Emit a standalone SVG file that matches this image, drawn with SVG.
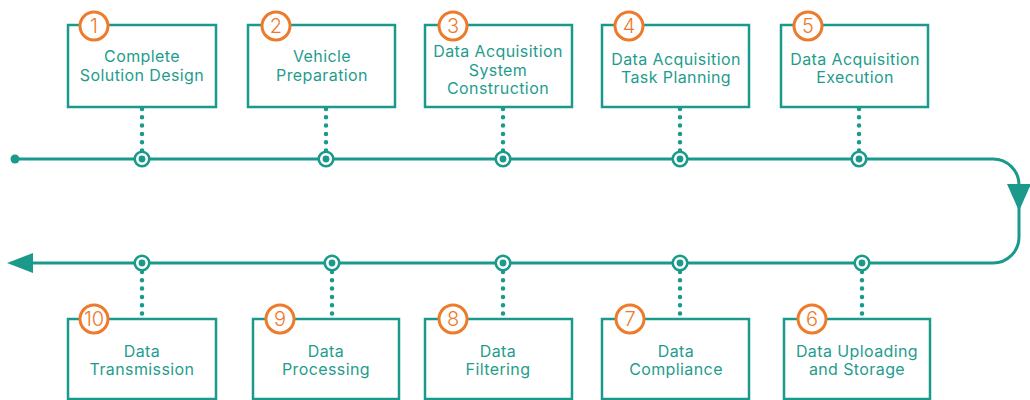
<svg xmlns="http://www.w3.org/2000/svg" width="1030" height="400" viewBox="0 0 1030 400">
<style>
.box{fill:#fff;stroke:#1b9a8b;stroke-width:2.5}
.num{fill:#fff;stroke:#ee7a2b;stroke-width:3}
.numt{fill:#ee7a2b;font-family:Inter,"Open Sans",sans-serif;font-size:20px;font-weight:300;text-anchor:middle}
.lbl{fill:#1f9c8d;font-family:Inter,"Open Sans",sans-serif;font-size:16px;letter-spacing:0.4px;text-anchor:middle}
.line{fill:none;stroke:#1b9a8b;stroke-width:3}
.dots{stroke:#1b9a8b;stroke-width:4.5;stroke-linecap:round;stroke-dasharray:0 8.3}
.ring{fill:#fff;stroke:#1b9a8b;stroke-width:2.6}
.core{fill:#1b9a8b}
</style>
<g id="connectors">
<path class="line" d="M15 159 H993 A26 26 0 0 1 1019 185 V237 A26 26 0 0 1 993 263 H30"/>
<circle class="core" cx="15" cy="159" r="4.5"/>
<polygon class="core" points="1007,184 1031,184 1019,211"/>
<polygon class="core" points="7,263 33,253 33,273"/>
<line class="dots" x1="142" y1="109" x2="142" y2="151"/>
<line class="dots" x1="326" y1="109" x2="326" y2="151"/>
<line class="dots" x1="503" y1="109" x2="503" y2="151"/>
<line class="dots" x1="680" y1="109" x2="680" y2="151"/>
<line class="dots" x1="859" y1="109" x2="859" y2="151"/>
<line class="dots" x1="142" y1="272" x2="142" y2="314"/>
<line class="dots" x1="332" y1="272" x2="332" y2="314"/>
<line class="dots" x1="503" y1="272" x2="503" y2="314"/>
<line class="dots" x1="680" y1="272" x2="680" y2="314"/>
<line class="dots" x1="862" y1="272" x2="862" y2="314"/>
<g>
<circle class="ring" cx="142" cy="159" r="7.3"/><circle class="core" cx="142" cy="159" r="3.4"/>
<circle class="ring" cx="326" cy="159" r="7.3"/><circle class="core" cx="326" cy="159" r="3.4"/>
<circle class="ring" cx="503" cy="159" r="7.3"/><circle class="core" cx="503" cy="159" r="3.4"/>
<circle class="ring" cx="680" cy="159" r="7.3"/><circle class="core" cx="680" cy="159" r="3.4"/>
<circle class="ring" cx="859" cy="159" r="7.3"/><circle class="core" cx="859" cy="159" r="3.4"/>
<circle class="ring" cx="142" cy="263" r="7.3"/><circle class="core" cx="142" cy="263" r="3.4"/>
<circle class="ring" cx="332" cy="263" r="7.3"/><circle class="core" cx="332" cy="263" r="3.4"/>
<circle class="ring" cx="503" cy="263" r="7.3"/><circle class="core" cx="503" cy="263" r="3.4"/>
<circle class="ring" cx="680" cy="263" r="7.3"/><circle class="core" cx="680" cy="263" r="3.4"/>
<circle class="ring" cx="862" cy="263" r="7.3"/><circle class="core" cx="862" cy="263" r="3.4"/>
</g>
</g>
<g id="step1">
<rect class="box" x="68" y="25" width="148" height="82"/>
<circle class="num" cx="94" cy="26" r="14"/><text class="numt" x="94" y="33">1</text>
<text class="lbl" x="142" y="62">Complete</text><text class="lbl" x="142" y="81">Solution Design</text>
</g>
<g id="step2">
<rect class="box" x="248" y="25" width="147" height="82"/>
<circle class="num" cx="276" cy="26" r="14"/><text class="numt" x="276" y="33">2</text>
<text class="lbl" x="322" y="62">Vehicle</text><text class="lbl" x="322" y="81">Preparation</text>
</g>
<g id="step3">
<rect class="box" x="425" y="25" width="147" height="82"/>
<circle class="num" cx="453" cy="26" r="14"/><text class="numt" x="453" y="33">3</text>
<text class="lbl" x="498" y="57">Data Acquisition</text><text class="lbl" x="498" y="75.5">System</text><text class="lbl" x="498" y="94">Construction</text>
</g>
<g id="step4">
<rect class="box" x="602" y="25" width="147" height="82"/>
<circle class="num" cx="629" cy="26" r="14"/><text class="numt" x="629" y="33">4</text>
<text class="lbl" x="676" y="65">Data Acquisition</text><text class="lbl" x="676" y="83">Task Planning</text>
</g>
<g id="step5">
<rect class="box" x="781" y="25" width="147" height="82"/>
<circle class="num" cx="808" cy="26" r="14"/><text class="numt" x="808" y="33">5</text>
<text class="lbl" x="855" y="65">Data Acquisition</text><text class="lbl" x="855" y="83">Execution</text>
</g>
<g id="step6">
<rect class="box" x="784" y="319" width="146" height="80"/>
<circle class="num" cx="812" cy="319" r="14"/><text class="numt" x="812" y="326">6</text>
<text class="lbl" x="857" y="357">Data Uploading</text><text class="lbl" x="857" y="375">and Storage</text>
</g>
<g id="step7">
<rect class="box" x="602" y="319" width="147" height="80"/>
<circle class="num" cx="630" cy="319" r="14"/><text class="numt" x="630" y="326">7</text>
<text class="lbl" x="676" y="357">Data</text><text class="lbl" x="676" y="375">Compliance</text>
</g>
<g id="step8">
<rect class="box" x="425" y="319" width="147" height="80"/>
<circle class="num" cx="453" cy="319" r="14"/><text class="numt" x="453" y="326">8</text>
<text class="lbl" x="498" y="357">Data</text><text class="lbl" x="498" y="375">Filtering</text>
</g>
<g id="step9">
<rect class="box" x="253" y="319" width="146" height="80"/>
<circle class="num" cx="280" cy="319" r="14"/><text class="numt" x="280" y="326">9</text>
<text class="lbl" x="326" y="357">Data</text><text class="lbl" x="326" y="375">Processing</text>
</g>
<g id="step10">
<rect class="box" x="68" y="319" width="148" height="80"/>
<circle class="num" cx="94" cy="319" r="14"/><text class="numt" x="94" y="326">10</text>
<text class="lbl" x="142" y="357">Data</text><text class="lbl" x="142" y="375">Transmission</text>
</g>
</svg>
